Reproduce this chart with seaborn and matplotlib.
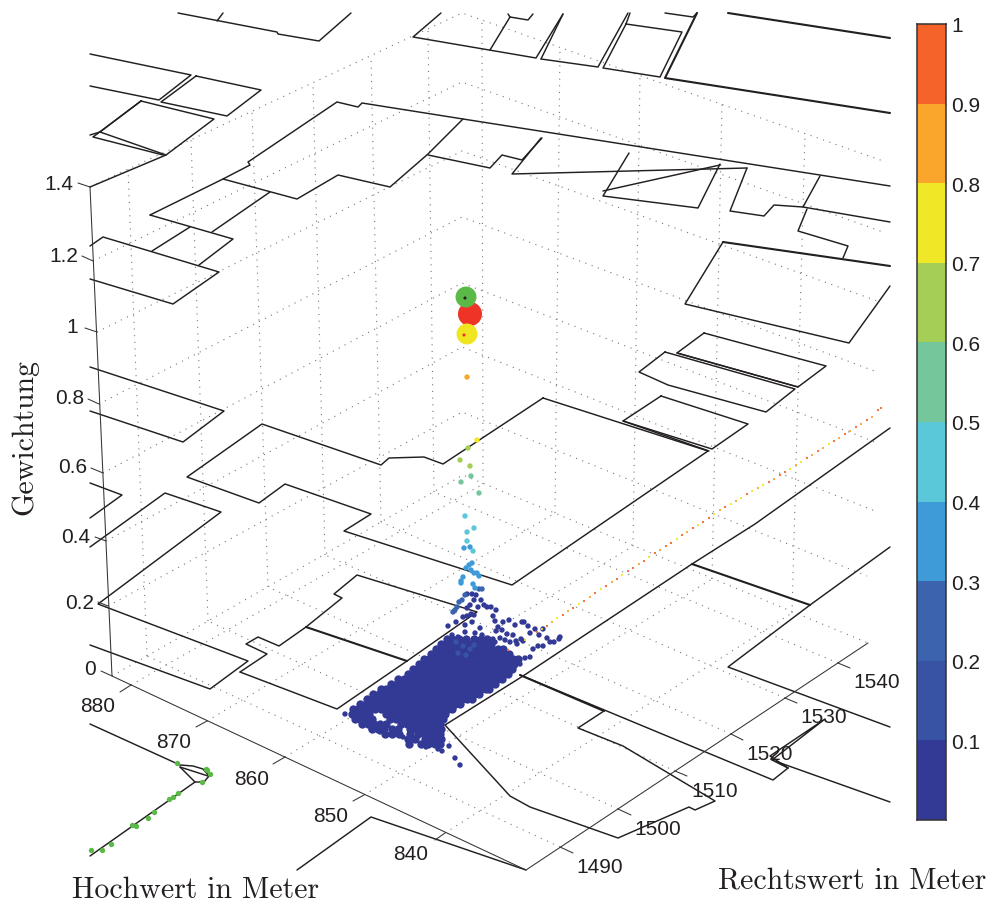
# Gewichtung der Punkte ueber dem Lageplan (perspektivische Ansicht)
import numpy as np
import pandas as pd
import seaborn as sns
import matplotlib.pyplot as plt
from matplotlib.colors import ListedColormap

# ----------------------------
# Data (x, y in the picture plane of the 3D view)
# ----------------------------
outlines = [
    [(178,14),(277,33),(278,35),(319,42),(351,14)],
    [(217,22),(223,14)],
    [(90,55),(191,76),(159,101),(90,87)],
    [(196,77),(261,91),(227,117),(161,103),(196,77)],
    [(141,102),(214,120),(166,156),(100,133),(141,102)],
    [(90,136),(100,133)],
    [(141,102),(93,138),(163,156)],
    [(90,188),(166,156)],
    [(150,216),(223,180),(250,166),(248,163),(337,103),(358,108),(362,104),(463,120),(890,187)],
    [(463,120),(428,155),(390,188),(338,176),(297,200),(223,180)],
    [(150,216),(233,240),(199,266)],
    [(270,193),(212,233)],
    [(190,228),(152,252)],
    [(90,247),(103,238),(219,273),(173,305),(90,280)],
    [(441,14),(413,38),(536,59),(563,15)],
    [(490,51),(510,18)],
    [(510,18),(528,21),(533,15)],
    [(508,15),(510,18)],
    [(541,60),(598,68),(628,14)],
    [(563,15),(541,60)],
    [(626,25),(682,33),(660,78),(603,69),(626,25),(630,14)],
    [(665,14),(693,18),(697,14)],
    [(428,156),(490,169),(502,156),(522,161),(542,139)],
    [(541,139),(512,175),(747,169)],
    [(629,154),(603,197),(698,209),(720,165)],
    [(603,192),(720,166)],
    [(747,169),(730,212),(764,217),(774,206),(803,208),(820,177)],
    [(803,208),(890,223)],
    [(807,210),(798,232),(848,247),(843,259)],
    [(723,243),(685,305),(849,344),(890,287)],
    [(704,334),(826,367),(798,388),(677,354),(704,334)],
    [(677,354),(798,388)],
    [(665,353),(795,390),(766,413),(668,386),(639,373),(665,353)],
    [(661,397),(748,425),(712,450),(623,422),(661,397)],
    [(623,422),(709,452)],
    [(543,399),(708,452),(512,586),(344,532),(371,515),(285,485),(259,504),(187,478),(262,425),(381,466),(389,459),(424,458),(443,465),(543,399)],
    [(90,368),(224,412),(183,443),(90,412)],
    [(90,484),(122,496),(90,519)],
    [(90,548),(165,494),(221,513),(98,605),(248,662),(210,690),(90,646)],
    [(240,673),(267,655),(246,645),(258,638),(279,647),(306,628)],
    [(240,673),(337,710),(407,662),(477,613),(357,576),(334,595),(342,599),(306,628)],
    [(445,726),(523,677),(692,565),(755,525),(890,429)],
    [(445,726),(510,797),(530,808),(618,839),(689,808),(695,811),(715,802),(623,747),(578,729),(604,712)],
    [(890,548),(810,606),(728,668),(890,728)],
    [(788,769),(773,781),(520,676)],
    [(788,769),(772,761),(890,803)],
    [(772,761),(825,720),(770,757),(788,769)],
    [(297,871),(371,818),(526,871)],
    [(90,725),(180,766),(193,767),(203,770),(209,777),(204,783),(195,783),(180,768)],
    [(180,768),(208,777)],
    [(90,857),(195,783)],
]
thick_outlines = [
    [(728,14),(890,39)],
    [(697,14),(665,79),(890,114)],
    [(723,243),(890,267)],
    [(306,628),(407,662)],
    [(692,565),(810,606)],
    [(604,712),(520,676)],
]

z_ticks = ["1.4", "1.2", "1", "0.8", "0.6", "0.4", "0.2", "0"]
z_tick_base = [(90,188),(93,262),(97,333),(99,405),(103,474),(106,542),(108,607),(112,677)]
z_tick_end = [(78,184),(82,257),(85,329),(88,400),(91,469),(95,538),(98,603),(101,672)]
z_label_pos = [(73,184),(78,257),(78,328),(84,399),(87,468),(90,538),(94,604),(96,670)]
z_back = [(462,14),(462,83),(462,152),(462,218),(462,284),(462,348),(462,413),(463,476)]
z_right = [(886,163),(883,233),(880,303),(877,373),(875,443),(875,512),(867,577),(868,644)]

hoch_ticks = ["880", "870", "860", "850", "840"]
hoch_base = [(131,686),(207,722),(285,758),(364,796),(445,834)]
hoch_end = [(120,693),(196,728),(273,765),(353,802),(435,841)]
hoch_label_pos = [(98,707),(174,743),(252,780),(331,817),(411,855)]
hoch_far = [(483,485),(555,514),(633,547),(712,580),(792,614)]
hoch_top = [(482,21),(560,48),(640,76),(722,105),(805,134)]

rechts_ticks = ["1490", "1500", "1510", "1520", "1530", "1540"]
rechts_base = [(560,848),(618,810),(675,772),(731,735),(785,699),(838,664)]
rechts_end = [(573,854),(631,816),(687,777),(743,741),(797,704),(850,669)]
rechts_label_pos = [(600,868),(658,830),(715,792),(770,755),(824,718),(877,683)]
rechts_far = [(147,657),(208,622),(268,588),(325,556),(381,523),(434,493)]
rechts_top = [(128,170),(191,141),(252,112),(313,84),(371,57),(428,30)]

axis_lines = [
    [(90,188),(112,677),(526,871),(868,644)],
]

# dense cloud of low weights, one row of x values per y
cloud_rows = {
    640: [447,452,459,466,474,481,487],
    645: [441,446,452,458,463,469,475,480,486,491],
    650: [436,442,447,453,459,464,470,476,481,487,492,498,503],
    655: [431,436,441,447,453,458,464,470,475,481,486,492,497,503,509],
    660: [424,429,435,441,446,452,458,463,469,474,480,485,491,496,502,507,513,518],
    665: [419,425,431,436,442,447,453,458,464,470,475,481,486,492,498,503,508,514],
    670: [413,419,424,430,436,441,447,452,458,464,469,475,480,486,491,497,503,508,512],
    675: [408,413,419,425,431,436,441,447,452,458,464,469,475,480,486,492,497,503,508],
    680: [398,404,409,415,420,426,431,437,442,448,453,459,465,470,476,481,487,492,497,502],
    685: [391,397,402,408,413,419,425,430,436,441,447,452,458,464,469,475,480,486,491,495],
    690: [381,386,392,398,403,409,414,420,425,431,436,442,448,453,459,464,470,476,481,486,489],
    695: [373,379,385,390,396,401,407,413,418,424,429,435,441,446,452,457,463,469,474,479],
    700: [367,372,378,384,389,395,400,406,412,417,423,428,434,440,445,451,456,462,467,472],
    705: [360,366,371,377,383,388,394,399,405,411,416,422,427,433,439,444,450,455,460],
    710: [353,358,364,370,375,381,386,392,398,403,409,414,420,426,431,437,442,448,452],
    715: [352,357,363,369,386,392,397,403,408,414,420,425,431,436,441,445],
    720: [355,360,366,372,390,396,401,407,413,418,424,429,435,440,443],
    725: [362,368,374,380,386,401,407,412,418,424,429,435,440],
    730: [372,378,384,392,398,410,416,422,427,433,437,441],
    735: [385,392,399,410,418,425,430,436,440],
    740: [408,415,425,431,437,441],
    745: [409,421,428,435,440],
}
cloud_loose = [
    (509,621),(522,623),(515,626),(524,623),(503,623),(498,628),(496,632),(502,631),(507,635),(513,636),
    (500,639),(505,641),(510,643),(516,642),(521,640),(528,627),(530,634),(539,636),(535,630),(543,630),
    (547,639),(550,643),(554,643),(560,638),(559,640),(543,647),(538,647),(533,650),(530,658),(525,659),
    (523,642),(517,645),(495,643),(493,640),(520,665),(513,667),(345,715),(442,752),(449,747),(455,759),
    (460,766),(409,746),(421,746),(426,748),(438,750),(434,746),(371,730),(380,733),(396,735),(403,738),
    (467,595),(472,595),(476,596),(474,601),(481,601),(470,606),(467,609),(478,608),(484,606),(487,608),
    (491,608),(496,611),(471,615),(474,616),(463,618),(467,617),(493,617),(495,622),(456,623),(472,623),
    (465,626),(448,627),(480,629),(465,633),(452,636),(458,638),(475,634),(482,636),
]
# points with a higher weight: x, y, weight
ramp_pts = [
    (467,378,.85),(477,441,.75),(468,449,.65),(460,461,.65),(470,467,.65),(471,477,.55),(461,483,.55),
    (479,494,.55),(465,517,.45),(474,529,.45),(467,533,.45),(467,542,.45),(464,549,.35),(470,548,.35),
    (473,552,.45),(472,564,.35),(469,566,.35),(466,569,.35),(471,571,.35),(474,574,.35),(477,574,.35),
    (479,577,.35),(463,578,.35),(461,582,.35),(461,584,.35),(473,585,.35),(482,590,.25),(479,590,.25),
    (475,589,.35),(465,596,.25),(462,601,.25),(459,603,.25),(457,608,.25),(455,611,.25),(453,613,.25),
    (456,643,.15),(463,647,.15),(470,650,.15),(458,654,.15),(466,656,.15),(474,646,.15),
]
trail_pts = [
    (508,651,.95),(525,641,.75),(537,633,.95),(542,630,.75),(547,627,.95),(552,623,.85),(557,619,.75),
    (563,616,.95),(568,612,.85),(573,609,.95),(579,605,.75),(584,602,.95),(590,598,.85),(595,594,.95),
    (601,590,.75),(606,587,.95),(612,583,.85),(617,580,.95),(622,576,.75),(628,572,.95),(633,569,.95),
    (639,565,.85),(644,562,.95),(649,558,.75),(655,554,.95),(660,551,.85),(666,547,.95),(671,544,.95),
    (677,540,.75),(682,536,.95),(687,533,.85),(693,529,.95),(698,526,.75),(703,523,.95),(709,519,.95),
    (714,515,.75),(720,511,.85),(725,508,.95),(731,505,.75),(736,502,.85),(741,499,.75),(747,495,.95),
    (752,492,.75),(758,489,.85),(763,486,.75),(769,483,.95),(774,480,.85),(780,476,.95),(785,473,.95),
    (790,470,.75),(796,466,.85),(801,463,.75),(807,459,.95),(812,456,.85),(818,452,.95),(823,449,.85),
    (829,445,.75),(834,442,.95),(839,439,.85),(845,435,.95),(850,432,.85),(856,428,.95),(861,425,.85),
    (867,421,.95),(872,418,.85),(878,411,.95),(881,409,.95),
]
big_x = [470, 466, 467]
big_y = [315, 298, 335]
big_size = [300, 227, 227]
big_colors = ["#ee3327", "#5bb947", "#f0e521"]
seed_x = [465, 464]
seed_y = [299, 336]
seed_colors = ["#222222", "#ee3327"]

green_x = [91,102,111,132,136,148,154,169,173,178,202,210,207,206,177]
green_y = [851,851,845,826,827,819,813,800,798,794,783,775,771,770,764]

bar_levels = [.95, .85, .75, .65, .55, .45, .35, .25, .15, .05]
bar_colors = ["#333a96", "#3853a4", "#3c64ae", "#3f9bd8", "#5ac8d8",
              "#75c69b", "#a5ce57", "#f0e827", "#faa62c", "#f5632b"]
bar_ticks = [1, .9, .8, .7, .6, .5, .4, .3, .2, .1]
bar_tick_labels = ["1", "0.9", "0.8", "0.7", "0.6", "0.5", "0.4", "0.3", "0.2", "0.1"]

# ----------------------------
# Plot
# ----------------------------
W, H = 989, 903
sns.set_style("white")
plt.rcParams['font.family'] = ['Liberation Sans', 'DejaVu Sans']
INK = "#231f20"
SERIF = "cmr10"

fig = plt.figure(figsize=(W / 100, H / 100), dpi=100)
ax = fig.add_axes([0, 0, 1, 1])


def draw_line(pts, **kw):
    xs, ys = zip(*pts)
    sns.lineplot(x=list(xs), y=list(ys), sort=False, estimator=None, errorbar=None,
                 legend=False, ax=ax, **kw)


# dotted box grid
grid = dict(color="#777777", linewidth=0.8, linestyle=(0, (1, 5)))
for a, b, c in zip(z_tick_base, z_back, z_right):
    draw_line([a, b, c], **grid)
for a, b, c in zip(hoch_base, hoch_far, hoch_top):
    draw_line([a, b], **grid)
    draw_line([b, c], **grid)
for a, b, c in zip(rechts_base, rechts_far, rechts_top):
    draw_line([a, b], **grid)
    draw_line([b, c], **grid)

# building outlines
for pts in outlines:
    draw_line(pts, color=INK, linewidth=1.05)
for pts in thick_outlines:
    draw_line(pts, color=INK, linewidth=1.5)

# axes with ticks
for pts in axis_lines:
    draw_line(pts, color="#333333", linewidth=0.75)
for a, b in zip(z_tick_base + hoch_base + rechts_base, z_tick_end + hoch_end + rechts_end):
    draw_line([a, b], color="#333333", linewidth=0.75)

label_style = dict(fontsize=15, color=INK, va="center")
for txt, (x, y) in zip(z_ticks, z_label_pos):
    ax.text(x, y, txt, ha="right", **label_style)
for txt, (x, y) in zip(hoch_ticks, hoch_label_pos):
    ax.text(x, y, txt, ha="center", **label_style)
for txt, (x, y) in zip(rechts_ticks, rechts_label_pos):
    ax.text(x, y, txt, ha="center", **label_style)

# points
core_x, core_y = [], []
for y, xs in cloud_rows.items():
    core_x += xs
    core_y += [y] * len(xs)
sns.scatterplot(x=core_x, y=core_y, color=bar_colors[0], s=36, linewidth=0, legend=False, ax=ax, zorder=4)

pts = pd.DataFrame(cloud_loose, columns=["x", "y"])
pts["w"] = 0.05
pts = pd.concat([pts, pd.DataFrame(ramp_pts, columns=["x", "y", "w"])], ignore_index=True)
pts["level"] = (pts["w"] * 10).astype(int)
palette = {i: c for i, c in enumerate(bar_colors)}
sns.scatterplot(data=pts, x="x", y="y", hue="level", palette=palette, s=15, linewidth=0,
                legend=False, ax=ax, zorder=4)

trail = pd.DataFrame(trail_pts, columns=["x", "y", "w"])
trail["level"] = (trail["w"] * 10).astype(int)
sns.scatterplot(data=trail, x="x", y="y", hue="level", palette=palette, s=2.5, linewidth=0,
                legend=False, ax=ax, zorder=4)

sns.scatterplot(x=big_x, y=big_y, hue=big_colors, palette=dict(zip(big_colors, big_colors)),
                size=big_size, sizes=(227, 300), linewidth=0, legend=False, ax=ax, zorder=5)
sns.scatterplot(x=seed_x, y=seed_y, hue=seed_colors, palette=dict(zip(seed_colors, seed_colors)),
                s=5, linewidth=0, legend=False, ax=ax, zorder=6)
sns.scatterplot(x=green_x, y=green_y, color="#5bb947", s=15, linewidth=0, legend=False, ax=ax, zorder=4)

ax.text(25, 437, "Gewichtung", family=SERIF, fontsize=21.5, rotation=90, ha="center", va="center", color=INK)
ax.text(196, 890, "Hochwert in Meter", family=SERIF, fontsize=21.5, ha="center", va="center", color=INK)
ax.text(852, 881, "Rechtswert in Meter", family=SERIF, fontsize=21.5, ha="center", va="center", color=INK)

ax.set_xlim(0, W)
ax.set_ylim(H, 0)
ax.set_axis_off()

# colorbar as one-column heatmap
cax = fig.add_axes([917 / W, 1 - 821 / H, 29 / W, 796 / H])
sns.heatmap(np.array(bar_levels).reshape(-1, 1), ax=cax, cmap=ListedColormap(bar_colors),
            vmin=0, vmax=1, cbar=False, xticklabels=False, yticklabels=False)
cax.set_yticks([(1 - v) * 10 for v in bar_ticks])
cax.set_yticklabels(bar_tick_labels, rotation=0, fontsize=15, color=INK)
cax.tick_params(axis="y", left=True, right=True, labelleft=False, labelright=True,
                direction="in", length=6, width=0.8, color="#333333", pad=4)
for s in cax.spines.values():
    s.set_visible(True)
    s.set_linewidth(1.1)
    s.set_color("#333333")

plt.savefig("out.png", dpi=100)
